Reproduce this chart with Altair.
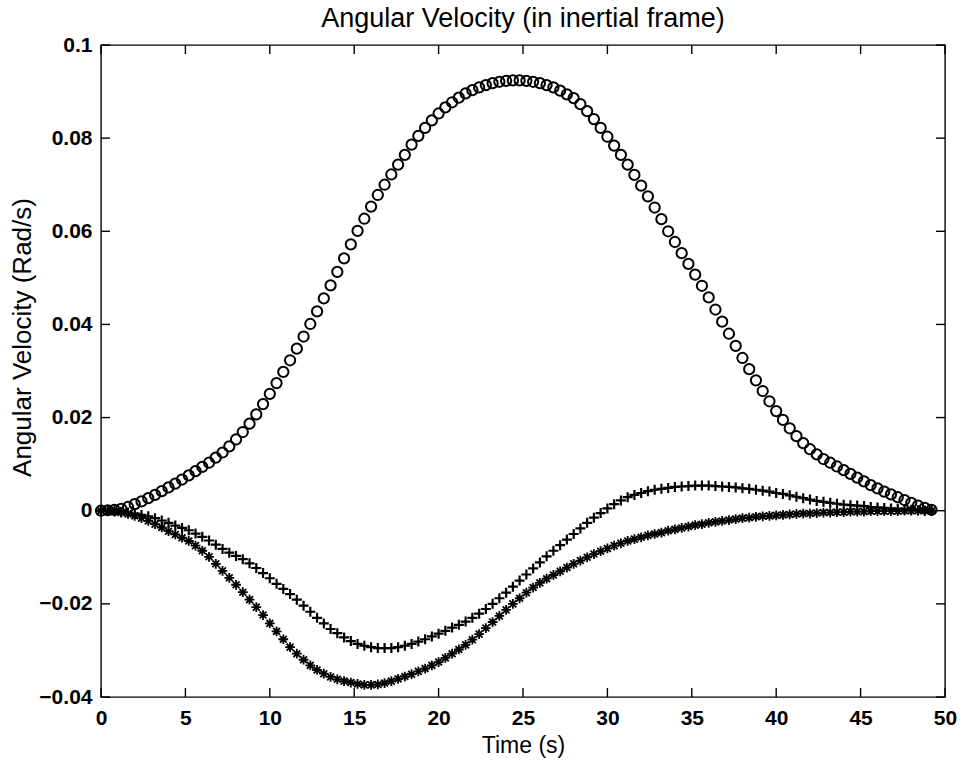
import altair as alt
import pandas as pd

dt = 0.4
circle_vals = [
    0.0000, 0.0001, 0.0002, 0.0004, 0.0008, 0.0014, 0.0020, 0.0027, 0.0034, 0.0042,
    0.0050, 0.0058, 0.0067, 0.0076, 0.0085, 0.0094, 0.0103, 0.0114, 0.0125, 0.0138,
    0.0153, 0.0169, 0.0187, 0.0207, 0.0229, 0.0251, 0.0274, 0.0298, 0.0323, 0.0348,
    0.0374, 0.0401, 0.0428, 0.0456, 0.0484, 0.0513, 0.0542, 0.0572, 0.0601, 0.0627,
    0.0653, 0.0678, 0.0700, 0.0722, 0.0743, 0.0764, 0.0786, 0.0805, 0.0822, 0.0838,
    0.0853, 0.0866, 0.0877, 0.0887, 0.0896, 0.0903, 0.0909, 0.0914, 0.0918, 0.0921,
    0.0923, 0.0924, 0.0924, 0.0923, 0.0921, 0.0918, 0.0914, 0.0909, 0.0902, 0.0894,
    0.0886, 0.0873, 0.0858, 0.0841, 0.0822, 0.0803, 0.0784, 0.0764, 0.0743, 0.0721,
    0.0698, 0.0675, 0.0651, 0.0626, 0.0600, 0.0577, 0.0553, 0.0530, 0.0507, 0.0483,
    0.0458, 0.0432, 0.0406, 0.0380, 0.0354, 0.0328, 0.0304, 0.0280, 0.0257, 0.0235,
    0.0214, 0.0195, 0.0177, 0.0160, 0.0145, 0.0132, 0.0121, 0.0111, 0.0103, 0.0095,
    0.0087, 0.0079, 0.0071, 0.0063, 0.0055, 0.0048, 0.0041, 0.0035, 0.0029, 0.0023,
    0.0017, 0.0011, 0.0006, 0.0002,
]
plus_vals = [
    0.0000, 0.0000, -0.0001, -0.0002, -0.0004, -0.0006, -0.0009, -0.0012, -0.0016, -0.0021,
    -0.0026, -0.0032, -0.0037, -0.0042, -0.0049, -0.0056, -0.0064, -0.0073, -0.0082, -0.0090,
    -0.0097, -0.0104, -0.0113, -0.0123, -0.0134, -0.0145, -0.0157, -0.0168, -0.0179, -0.0191,
    -0.0204, -0.0217, -0.0230, -0.0242, -0.0254, -0.0263, -0.0272, -0.0280, -0.0286, -0.0290,
    -0.0293, -0.0295, -0.0295, -0.0295, -0.0293, -0.0290, -0.0286, -0.0281, -0.0276, -0.0270,
    -0.0264, -0.0258, -0.0251, -0.0245, -0.0238, -0.0230, -0.0221, -0.0211, -0.0200, -0.0188,
    -0.0176, -0.0163, -0.0150, -0.0137, -0.0124, -0.0111, -0.0098, -0.0086, -0.0074, -0.0062,
    -0.0050, -0.0038, -0.0026, -0.0015, -0.0005, 0.0005, 0.0014, 0.0022, 0.0029, 0.0034,
    0.0038, 0.0042, 0.0045, 0.0047, 0.0049, 0.0051, 0.0052, 0.0053, 0.0054, 0.0054,
    0.0054, 0.0053, 0.0052, 0.0051, 0.0050, 0.0048, 0.0047, 0.0045, 0.0043, 0.0041,
    0.0038, 0.0036, 0.0033, 0.0030, 0.0027, 0.0024, 0.0021, 0.0019, 0.0017, 0.0015,
    0.0013, 0.0012, 0.0011, 0.0010, 0.0008, 0.0007, 0.0006, 0.0005, 0.0004, 0.0003,
    0.0002, 0.0001, 0.0000, 0.0000,
]
star_vals = [
    0.0000, -0.0001, -0.0002, -0.0004, -0.0007, -0.0011, -0.0016, -0.0022, -0.0029, -0.0036,
    -0.0044, -0.0051, -0.0058, -0.0065, -0.0075, -0.0086, -0.0099, -0.0114, -0.0129, -0.0144,
    -0.0159, -0.0175, -0.0191, -0.0207, -0.0224, -0.0242, -0.0259, -0.0276, -0.0293, -0.0307,
    -0.0320, -0.0332, -0.0342, -0.0350, -0.0357, -0.0362, -0.0366, -0.0369, -0.0372, -0.0374,
    -0.0374, -0.0373, -0.0370, -0.0366, -0.0361, -0.0356, -0.0351, -0.0345, -0.0339, -0.0332,
    -0.0325, -0.0316, -0.0307, -0.0298, -0.0288, -0.0277, -0.0265, -0.0252, -0.0239, -0.0226,
    -0.0213, -0.0200, -0.0188, -0.0176, -0.0165, -0.0155, -0.0146, -0.0138, -0.0130, -0.0122,
    -0.0114, -0.0107, -0.0100, -0.0093, -0.0087, -0.0081, -0.0075, -0.0070, -0.0065, -0.0061,
    -0.0057, -0.0053, -0.0050, -0.0047, -0.0043, -0.0040, -0.0037, -0.0034, -0.0031, -0.0029,
    -0.0026, -0.0024, -0.0022, -0.0020, -0.0018, -0.0016, -0.0015, -0.0013, -0.0012, -0.0011,
    -0.0010, -0.0009, -0.0008, -0.0007, -0.0006, -0.0006, -0.0005, -0.0004, -0.0004, -0.0003,
    -0.0003, -0.0002, -0.0002, -0.0002, -0.0001, -0.0001, -0.0001, -0.0001, -0.0001, 0.0000,
    0.0000, 0.0000, 0.0000, 0.0000,
]
x_tick_values = [0, 5, 10, 15, 20, 25, 30, 35, 40, 45, 50]
y_tick_values = [-0.04, -0.02, 0, 0.02, 0.04, 0.06, 0.08, 0.1]
chart_title = "Angular Velocity (in inertial frame)"
x_title = "Time (s)"
y_title = "Angular Velocity (Rad/s)"

# ---- layout / style ----
W, H = 844, 652
FONT = "Liberation Sans"
TICK_LEN = 9

time = [round(i * dt, 1) for i in range(len(circle_vals))]
df_c = pd.DataFrame({"t": time, "w": circle_vals})
df_p = pd.DataFrame({"t": time, "w": plus_vals})
df_s = pd.DataFrame({"t": time, "w": star_vals})
df_xt = pd.DataFrame({"t": x_tick_values})
df_yt = pd.DataFrame({"w": y_tick_values})

xscale = alt.Scale(domain=[0, 50], nice=False, zero=False)
yscale = alt.Scale(domain=[-0.04, 0.1], nice=False, zero=False)

x_axis = alt.Axis(
    values=x_tick_values, title=x_title, ticks=False, tickSize=0, domain=False, grid=False,
    labelFont=FONT, labelFontSize=21, labelFontWeight="bold", labelColor="black",
    labelPadding=10, labelFlush=False, labelOverlap=False,
    titleFont=FONT, titleFontSize=23, titleFontWeight="normal", titleColor="black",
    titleX=W / 2, titleY=48, titleAlign="center", titleBaseline="middle",
)
y_axis = alt.Axis(
    values=y_tick_values, title=y_title, format=".2~f", ticks=False, tickSize=0, domain=False,
    grid=False, labelFont=FONT, labelFontSize=21, labelFontWeight="bold", labelColor="black",
    labelPadding=9, labelFlush=False, labelOverlap=False,
    titleFont=FONT, titleFontSize=26, titleFontWeight="normal", titleColor="black",
    titleX=-79, titleY=292, titleAlign="center", titleBaseline="middle", titleAngle=270,
)


def xy():
    return dict(
        x=alt.X("t:Q", scale=xscale, axis=x_axis),
        y=alt.Y("w:Q", scale=yscale, axis=y_axis),
    )


circles = alt.Chart(df_c).mark_point(
    shape="circle", filled=False, size=105, color="black", strokeWidth=2, opacity=1
).encode(**xy())
plus = alt.Chart(df_p).mark_point(
    shape="M-1,0L1,0M0,-1L0,1", filled=False, size=100, color="black", strokeWidth=2.2,
    opacity=1,
).encode(**xy())
stars = alt.Chart(df_s).mark_point(
    shape="M-1,0L1,0M0,-1L0,1M-0.7,-0.7L0.7,0.7M-0.7,0.7L0.7,-0.7",
    filled=False, size=95, color="black", strokeWidth=1.8, opacity=1,
).encode(**xy())

rule_style = dict(color="black", strokeWidth=1.4)
tick_left = alt.Chart(df_yt).mark_rule(**rule_style).encode(
    y=alt.Y("w:Q", scale=yscale, axis=y_axis), x=alt.value(0), x2=alt.value(TICK_LEN)
)
tick_right = alt.Chart(df_yt).mark_rule(**rule_style).encode(
    y=alt.Y("w:Q", scale=yscale, axis=y_axis), x=alt.value(W - TICK_LEN), x2=alt.value(W)
)
tick_bottom = alt.Chart(df_xt).mark_rule(**rule_style).encode(
    x=alt.X("t:Q", scale=xscale, axis=x_axis), y=alt.value(H), y2=alt.value(H - TICK_LEN)
)
tick_top = alt.Chart(df_xt).mark_rule(**rule_style).encode(
    x=alt.X("t:Q", scale=xscale, axis=x_axis), y=alt.value(0), y2=alt.value(TICK_LEN)
)

chart = alt.layer(
    circles, plus, stars, tick_left, tick_right, tick_bottom, tick_top
).properties(
    width=W,
    height=H,
    autosize="none",
    padding={"left": 101, "top": 45, "right": 22, "bottom": 66},
    background="white",
    title=alt.TitleParams(
        chart_title, font=FONT, fontSize=27, fontWeight="normal", color="black",
        anchor="middle", offset=1,
    ),
).configure_view(stroke="black", strokeWidth=1.4)

chart.save("out.html", embed_options={"renderer": "svg", "actions": False})
